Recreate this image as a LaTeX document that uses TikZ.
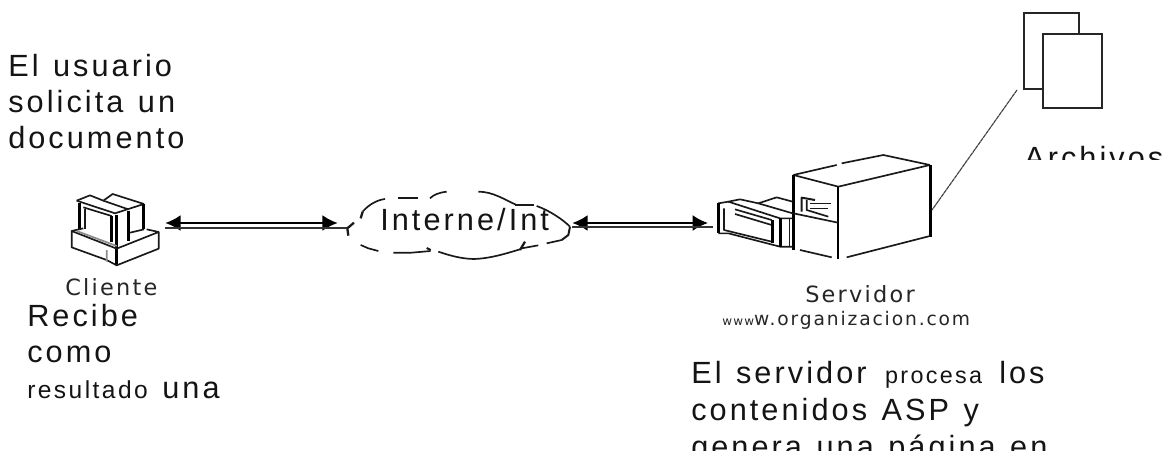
\documentclass[tikz,border=0pt]{standalone}
\usepackage{fontspec}
\setmainfont{Liberation Sans}
\newfontfamily\spaced[LetterSpace=10,WordSpace=1.25]{Liberation Sans}
\newfontfamily\iconfont[LetterSpace=10]{DejaVu Sans}
\usetikzlibrary{arrows.meta}
\newcommand{\bigtxt}{\fontsize{23}{26}\spaced}
\newcommand{\smalltxt}{\fontsize{17.5}{20}\spaced}
\newcommand{\smalltxtb}{\fontsize{18.4}{20}\spaced}
\newcommand{\icontxt}{\fontsize{16.8}{19}\iconfont}
\newcommand{\webtxt}{\fontsize{14}{17}\iconfont}
\tikzset{
  txt/.style={anchor=base west,inner sep=0pt,font=\bigtxt,text=black!92},
  icontext/.style={anchor=base west,inner sep=0pt,font=\icontxt,text=black!85},
  px/.style={line width=1.25pt,black!90,line join=round},
  thin px/.style={line width=0.8pt,black!85,line join=round},
  thick px/.style={line width=2pt,black},
  arrowup/.style={line width=1.6pt,black,{Latex[length=11.5pt,width=12pt]}-{Latex[length=11.5pt,width=12pt]}},
  arrowlow/.style={line width=1pt,black!80},
  doc/.style={draw=black!85,line width=1.1pt,fill=white,inner sep=0pt},
}
\begin{document}
\begin{tikzpicture}[x=0.75pt,y=-0.75pt]
\useasboundingbox[fill=white] (0,0) rectangle (1165,453);

% anchoring nodes for the three devices and the cloud
\node[inner sep=0pt,minimum width=94*0.75pt,minimum height=76*0.75pt] (client) at (118,226) {};
\node[inner sep=0pt,minimum width=225*0.75pt,minimum height=66*0.75pt] (cloud) at (459.5,225) {};
\node[inner sep=0pt,minimum width=224*0.75pt,minimum height=110*0.75pt] (server) at (821,210) {};

% client computer
\begin{scope}[shift={(40,170)},x=0.25pt,y=-0.25pt]
\draw[px] (110,92)--(150,76)--(190,92)--(218,72)--(312,102);
\draw[px] (110,92)--(225,130)--(262,118)--(312,102);
\draw[px] (190,92)--(265,118);
\draw[px] (130,112)--(215,138);
\draw[px] (270,188)--(312,178);
\draw[thick px] (118,100)--(118,178);
\draw[px] (135,118)--(135,178);
\draw[thick px] (214,138)--(214,215);
\draw[thick px] (230,135)--(230,285);
\draw[thick px] (265,122)--(265,212);
\draw[thick px] (310,102)--(310,178);
\draw[px] (95,183)--(130,175);
\draw[px] (320,178)--(356,186)--(356,236)--(230,286)--(200,270)--(95,232)--(95,183)--(230,236)--(356,186);
\draw[line width=1.3pt,black!45] (110,183)--(230,228) (200,240)--(200,275);
\draw[thin px,dashed] (150,205)--(190,220);
\end{scope}

% cloud outline
\begin{scope}[shift={(340,170)},x=0.25pt,y=-0.25pt]
\draw[px,line width=1.7pt] (25,197)--(22,175)--(42,158);
\draw[px,line width=1.7pt] (62,145)--(68,125);
\draw[px] (68,125) .. controls (85,105) and (110,90) .. (135,87);
\draw[px] (175,83)--(235,83);
\draw[px] (320,65) .. controls (295,68) and (280,75) .. (270,85);
\draw[px] (415,65) .. controls (460,65) and (495,90) .. (530,105);
\draw[px] (525,105)--(582,105);
\draw[px] (590,108) .. controls (630,122) and (670,150) .. (690,170);
\draw[px,line width=1.5pt] (690,170)--(685,195)--(665,210);
\draw[px] (665,210)--(620,220);
\draw[px] (595,226)--(545,235);
\draw[px,line width=1.7pt] (555,215)--(540,240);
\draw[px] (540,238) .. controls (500,250) and (450,266) .. (400,267) .. controls (360,266) and (325,255) .. (295,245);
\draw[px,line width=1.5pt] (260,234)--(272,240);
\draw[px] (272,243)--(215,248)--(160,248);
\draw[px] (115,243)--(85,235)--(62,225);
\end{scope}

% server
\begin{scope}[shift={(700,150)},x=0.25pt,y=-0.25pt]
\draw[px] (280,75)--(410,45) (425,40)--(550,15)--(690,45) (690,45)--(415,110)--(280,75);
\draw[thick px] (280,75)--(280,300);
\draw[thick px] (414,110)--(414,326);
\draw[thick px] (691,45)--(691,260);
\draw[px] (690,258)--(440,322);
\draw[px] (300,300)--(395,322);
\draw[px] (280,190)--(414,218);
\draw[px,line width=1.5pt] (305,185)--(305,143)--(345,150);
\draw[px] (320,150)--(320,180)--(385,200);
\draw[px] (330,160)--(392,160) (330,175)--(385,175);
\draw[px] (55,160)--(85,155)--(120,148)--(175,160)--(230,142)--(278,155);
\draw[thick px] (55,160)--(55,250);
\draw[px] (55,250)--(85,250)--(240,290)--(278,290);
\draw[px] (72,175)--(72,240)--(215,275);
\draw[px] (85,155)--(240,205)--(278,205);
\draw[px] (105,178)--(215,210) (105,192)--(215,225);
\draw[px] (175,160)--(278,190);
\draw[thick px] (218,210)--(218,278);
\draw[thick px] (242,205)--(242,290);
\draw[px] (268,205)--(268,290);
\end{scope}

% documents
\node[doc,minimum width=55*0.75pt,minimum height=76*0.75pt] (backdoc) at (1051.5,51) {};
\node[doc,minimum width=59*0.75pt,minimum height=74*0.75pt] (frontdoc) at (1072.5,71) {};

% connectors
\coordinate (cloudwu) at ([xshift=-6.75pt]cloud.west);
\coordinate (cloudwl) at (cloud.west);
\coordinate (cloudeu) at (cloud.east);
\coordinate (cloudel) at (cloud.east);
\coordinate (docfoot) at (1017,90);
\draw[arrowup] (client.east |- 0,223) -- (cloudwu |- 0,223);
\draw[arrowlow] (client.east |- 0,228) -- (cloudwl |- 0,228);
\draw[arrowup] (cloudeu |- 0,223) -- (708,223);
\draw[arrowlow] (cloudel |- 0,227) -- (713,227);
\draw[black!75,line width=0.85pt,dash pattern=on 3pt off 0.4pt] (docfoot) -- (932,210);

% labels
\node[txt] (t1) at (8,77) {El usuario};
\node[txt] (t2) at (8,113) {solicita un};
\node[txt] (t3) at (8,149) {documento};
\node[txt] (inet) at (380,230) {Interne/Int};
\node[txt] (r1) at (27,326) {Recibe};
\node[txt] (r2) at (27,362) {como};
\node[txt] (r3) at (27,398) {{\smalltxtb resultado} una};
\node[txt] (s1) at (691,383) {El servidor\hspace{3pt} {\smalltxt procesa}\hspace{2pt} los};
\node[txt] (s2) at (691,420) {contenidos ASP y};
\begin{scope}
\clip (680,430) rectangle (1165,450);
\node[txt] (s3) at (691,457) {genera una página en};
\end{scope}
\begin{scope}
\clip (1010,140) rectangle (1165,160);
\node[txt] (arch) at (1024,168) {Archivos};
\end{scope}
\node[icontext] (cli) at (65,295) {Cliente};
\node[icontext] (srv) at (805,302) {Servidor};
\node[icontext,font=\webtxt] (web) at (722,325) {{\fontsize{9}{10}\iconfont www}w.organizacion.com};
\end{tikzpicture}
\end{document}
